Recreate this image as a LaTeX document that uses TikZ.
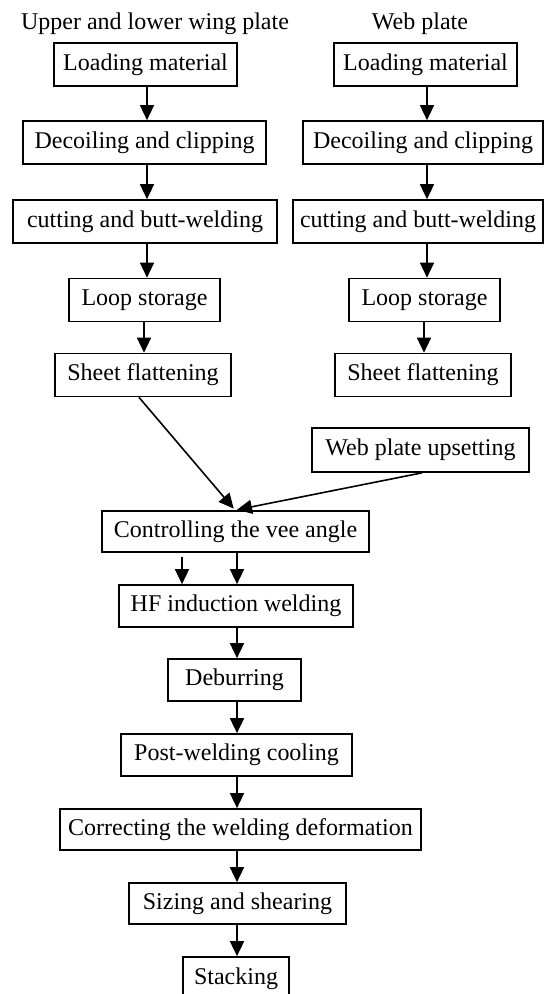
\documentclass[tikz,border=0pt]{standalone}
\usepackage{fontspec}
\setmainfont{Liberation Serif}
\usetikzlibrary{arrows.meta}
\begin{document}
\begin{tikzpicture}[x=1pt,y=-1pt,
  box/.style={draw, line width=1.7pt, minimum height=43pt, inner sep=0pt, font=\fontsize{24}{28}\selectfont},
  ttl/.style={inner sep=0pt, anchor=base, font=\fontsize{24}{28}\selectfont},
  arr/.style={line width=1.6pt, -{Triangle[length=15pt,width=14pt]}}]
\useasboundingbox[fill=white] (0,0) rectangle (545,994);
% titles
\node[ttl] (tL) at (155,29) {Upper and lower wing plate};
\node[ttl] (tR) at (420,29) {Web plate};
% left column
\node[box, minimum width=183pt] (L1) at (145.5,64.5) {Loading material};
\node[box, minimum width=243pt] (L2) at (144.5,142.5) {Decoiling and clipping};
\node[box, minimum width=264pt] (L3) at (145,221.5) {cutting and butt-welding};
\node[box, minimum width=151pt] (L4) at (144.5,300) {Loop storage};
\node[box, minimum width=176pt] (L5) at (143,375) {Sheet flattening};
% right column
\node[box, minimum width=183pt] (R1) at (425.5,64.5) {Loading material};
\node[box, minimum width=240pt] (R2) at (423,142.5) {Decoiling and clipping};
\node[box, minimum width=250pt] (R3) at (418,221.5) {cutting and butt-welding};
\node[box, minimum width=151pt] (R4) at (424.5,300) {Loop storage};
\node[box, minimum width=176pt] (R5) at (423,375) {Sheet flattening};
% merge
\node[box, minimum width=217pt, minimum height=44pt] (W) at (420.5,450) {Web plate upsetting};
\node[box, minimum width=267pt, minimum height=41pt] (C) at (235.5,531.5) {Controlling the vee angle};
\node[box, minimum width=234pt, minimum height=42pt] (HF) at (236,606) {HF induction welding};
\node[box, minimum width=133pt, minimum height=42pt] (D) at (234.5,680) {Deburring};
\node[box, minimum width=231pt, minimum height=42pt] (P) at (236.5,755) {Post-welding cooling};
\node[box, minimum width=361pt, minimum height=41pt] (CR) at (240.5,829.5) {Correcting the welding deformation};
\node[box, minimum width=217pt, minimum height=41pt] (S) at (237.5,903.5) {Sizing and shearing};
\node[box, minimum width=106pt] (ST) at (236,978.5) {Stacking};
% guide coordinates
\coordinate (lx) at (147,0);
\coordinate (lx2) at (144,0);
\coordinate (rx) at (427,0);
\coordinate (rx2) at (424,0);
\coordinate (mx) at (237,0);
\coordinate (mx2) at (182,0);
\coordinate (sx) at (139,0);
\coordinate (wx) at (422,0);
\coordinate (cx) at (235,0);
% left arrows
\draw[arr] (L1.south -| lx) -- (L2.north -| lx);
\draw[arr] (L2.south -| lx) -- (L3.north -| lx);
\draw[arr] (L3.south -| lx) -- (L4.north -| lx);
\draw[arr] (L4.south -| lx2) -- (L5.north -| lx2);
% right arrows
\draw[arr] (R1.south -| rx) -- (R2.north -| rx);
\draw[arr] (R2.south -| rx) -- (R3.north -| rx);
\draw[arr] (R3.south -| rx) -- (R4.north -| rx);
\draw[arr] (R4.south -| rx2) -- (R5.north -| rx2);
% merging arrows
\draw[arr, shorten >=2pt] (L5.south -| sx) -- (C.north -| cx);
\draw[arr, shorten >=2pt] (W.south -| wx) -- (C.north -| cx);
% main line
\draw[arr, shorten <=4pt] (C.south -| mx2) -- (HF.north -| mx2);
\draw[arr] (C.south -| mx) -- (HF.north -| mx);
\draw[arr] (HF.south -| mx) -- (D.north -| mx);
\draw[arr] (D.south -| mx) -- (P.north -| mx);
\draw[arr] (P.south -| mx) -- (CR.north -| mx);
\draw[arr] (CR.south -| mx) -- (S.north -| mx);
\draw[arr] (S.south -| mx) -- (ST.north -| mx);
\end{tikzpicture}
\end{document}
